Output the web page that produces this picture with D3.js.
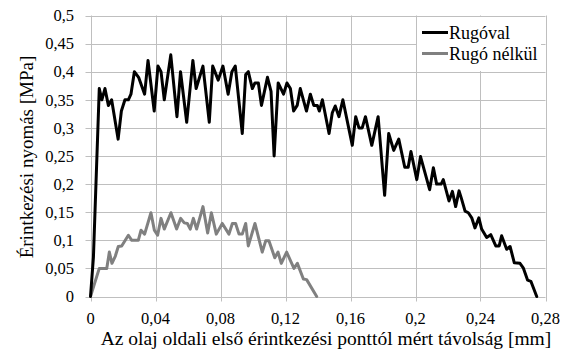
<!DOCTYPE html>
<html lang="hu">
<head>
<meta charset="UTF-8">
<title>Érintkezési nyomás</title>
<script src="https://d3js.org/d3.v7.min.js"></script>
<style>
    body { margin: 0; background: #fff; }
    svg { display: block; }
    svg text { font-family: 'Liberation Serif', 'Times New Roman', Times, 'DejaVu Serif', serif; }
</style>
</head>
<body>
<svg id="chart" width="567" height="353"></svg>
<script>
// --- data ---
const xTicks = [0, 0.04, 0.08, 0.12, 0.16, 0.2, 0.24, 0.28];
const yTicks = [0, 0.05, 0.1, 0.15, 0.2, 0.25, 0.3, 0.35, 0.4, 0.45, 0.5];
const seriesNames = ["Rugóval", "Rugó nélkül"];

const rugovalX = [0, 0.0018, 0.0054, 0.007, 0.0089, 0.011, 0.013, 0.017, 0.019, 0.0212,
    0.0233, 0.0249, 0.027, 0.0296, 0.0333, 0.0354, 0.0392, 0.0415, 0.0434, 0.0454,
    0.0494, 0.0532, 0.0554, 0.0592, 0.063, 0.065, 0.0692, 0.0731, 0.0752, 0.0786,
    0.0815, 0.0847, 0.087, 0.0891, 0.0934, 0.0955, 0.0971, 0.0996, 0.1012, 0.1033,
    0.1052, 0.1089, 0.1111, 0.113, 0.1155, 0.1188, 0.1209, 0.123, 0.125, 0.1272,
    0.1291, 0.1329, 0.1353, 0.1374, 0.1396, 0.1408, 0.1427, 0.1468, 0.1488, 0.1506,
    0.1529, 0.1553, 0.1611, 0.1632, 0.1652, 0.1672, 0.1692, 0.1731, 0.177, 0.181,
    0.1835, 0.1866, 0.1897, 0.1934, 0.1955, 0.1972, 0.2008, 0.2031, 0.2087, 0.211,
    0.213, 0.2158, 0.2171, 0.2206, 0.2227, 0.2247, 0.2268, 0.2282, 0.2305, 0.2325,
    0.2346, 0.2366, 0.239, 0.2407, 0.2438, 0.2463, 0.2494, 0.2515, 0.253, 0.2561,
    0.2582, 0.2608, 0.2643, 0.2663, 0.269, 0.271, 0.2746];
const rugovalY = [0, 0.07, 0.37, 0.35, 0.37, 0.34, 0.35, 0.28, 0.33, 0.35,
    0.35, 0.36, 0.40, 0.39, 0.36, 0.42, 0.33, 0.41, 0.40, 0.35,
    0.43, 0.32, 0.40, 0.31, 0.42, 0.37, 0.41, 0.31, 0.41, 0.385,
    0.41, 0.36, 0.40, 0.41, 0.29, 0.395, 0.40, 0.37, 0.38, 0.38,
    0.34, 0.39, 0.365, 0.25, 0.38, 0.36, 0.38, 0.37, 0.33, 0.34,
    0.37, 0.33, 0.36, 0.34, 0.34, 0.33, 0.35, 0.29, 0.327, 0.339,
    0.32, 0.35, 0.269, 0.32, 0.30, 0.30, 0.32, 0.269, 0.32, 0.18,
    0.29, 0.26, 0.28, 0.23, 0.23, 0.258, 0.208, 0.249, 0.19, 0.229,
    0.20, 0.20, 0.208, 0.17, 0.187, 0.16, 0.188, 0.175, 0.152, 0.149,
    0.14, 0.122, 0.14, 0.12, 0.105, 0.11, 0.09, 0.09, 0.108, 0.084,
    0.089, 0.06, 0.059, 0.051, 0.029, 0.027, 0];

const nelkulX = [0, 0.0054, 0.01, 0.0116, 0.0132, 0.0153, 0.0171, 0.0192, 0.0233, 0.0254,
    0.0294, 0.0311, 0.0333, 0.0372, 0.0393, 0.0413, 0.0434, 0.0454, 0.0495, 0.053,
    0.0555, 0.0577, 0.0596, 0.0614, 0.0633, 0.0653, 0.0692, 0.0721, 0.0744, 0.0774,
    0.0811, 0.0852, 0.0873, 0.0893, 0.0914, 0.0934, 0.0955, 0.0971, 0.1012, 0.1057,
    0.1078, 0.1098, 0.1134, 0.1154, 0.1174, 0.1207, 0.1252, 0.1273, 0.131, 0.133,
    0.1392];
const nelkulY = [0, 0.05, 0.05, 0.079, 0.059, 0.072, 0.089, 0.09, 0.109, 0.10,
    0.10, 0.118, 0.111, 0.149, 0.118, 0.109, 0.139, 0.12, 0.149, 0.12,
    0.139, 0.131, 0.13, 0.12, 0.139, 0.12, 0.16, 0.113, 0.149, 0.111,
    0.13, 0.111, 0.13, 0.13, 0.111, 0.111, 0.13, 0.09, 0.13, 0.079,
    0.099, 0.099, 0.069, 0.079, 0.059, 0.079, 0.05, 0.059, 0.031, 0.03,
    0];

// --- layout ---
const svg = d3.select("#chart");
const plotLeft = 90.5, plotRight = 545.5, plotTop = 15.5, plotBottom = 296.5;
const gridColor = "#bfbfbf";
const serif = "'Liberation Serif', 'Times New Roman', Times, 'DejaVu Serif', serif";

const x = d3.scaleLinear().domain([0, 0.28]).range([plotLeft, plotRight]);
const y = d3.scaleLinear().domain([0, 0.5]).range([plotBottom, plotTop]);
const fmt = d => d3.format(".2~f")(d).replace(".", ",");

// horizontal grid + left ticks
svg.append("g")
    .selectAll("line")
    .data(yTicks)
    .join("line")
    .attr("x1", plotLeft - 5)
    .attr("x2", plotRight)
    .attr("y1", d => Math.round(y(d)) + 0.5)
    .attr("y2", d => Math.round(y(d)) + 0.5)
    .attr("stroke", gridColor);

// vertical grid + bottom ticks
svg.append("g")
    .selectAll("line")
    .data(xTicks)
    .join("line")
    .attr("x1", d => Math.round(x(d)) + 0.5)
    .attr("x2", d => Math.round(x(d)) + 0.5)
    .attr("y1", plotTop)
    .attr("y2", plotBottom + 5)
    .attr("stroke", gridColor);

// tick labels
svg.append("g")
    .attr("font-family", serif)
    .attr("font-size", 16.5)
    .selectAll("text")
    .data(yTicks)
    .join("text")
    .attr("x", 74)
    .attr("y", d => y(d))
    .attr("dy", "0.35em")
    .attr("text-anchor", "end")
    .text(fmt);

svg.append("g")
    .attr("font-family", serif)
    .attr("font-size", 16.5)
    .selectAll("text")
    .data(xTicks)
    .join("text")
    .attr("x", d => x(d))
    .attr("y", 324)
    .attr("text-anchor", "middle")
    .text(fmt);

// axis titles
svg.append("text")
    .attr("x", 326)
    .attr("y", 345)
    .attr("text-anchor", "middle")
    .attr("font-family", serif)
    .attr("font-size", 19.5)
    .text("Az olaj oldali első érintkezési ponttól mért távolság [mm]");

svg.append("text")
    .attr("transform", "translate(33,157) rotate(-90)")
    .attr("text-anchor", "middle")
    .attr("font-family", serif)
    .attr("font-size", 19)
    .text("Érintkezési nyomás [MPa]");

// series
const line = d3.line().x(d => x(d[0])).y(d => y(d[1]));
const series = [
    { name: seriesNames[0], color: "#000000", pts: d3.zip(rugovalX, rugovalY) },
    { name: seriesNames[1], color: "#808080", pts: d3.zip(nelkulX, nelkulY) }
];

svg.append("g")
    .selectAll("path")
    .data(series.slice().reverse())
    .join("path")
    .attr("d", d => line(d.pts))
    .attr("fill", "none")
    .attr("stroke", d => d.color)
    .attr("stroke-width", 3)
    .attr("stroke-linejoin", "round")
    .attr("stroke-linecap", "round");

// legend
const legend = svg.append("g");
legend.append("rect")
    .attr("x", 417).attr("y", 17)
    .attr("width", 124).attr("height", 54)
    .attr("fill", "#fff");

const item = legend.selectAll("g.item")
    .data(series)
    .join("g")
    .attr("class", "item")
    .attr("transform", (d, i) => `translate(0,${32.5 + i * 21})`);

item.append("line")
    .attr("x1", 422).attr("x2", 448)
    .attr("stroke", d => d.color)
    .attr("stroke-width", 3);

item.append("text")
    .attr("x", 449)
    .attr("dy", "0.35em")
    .attr("font-family", serif)
    .attr("font-size", 18)
    .text(d => d.name);
</script>
</body>
</html>
